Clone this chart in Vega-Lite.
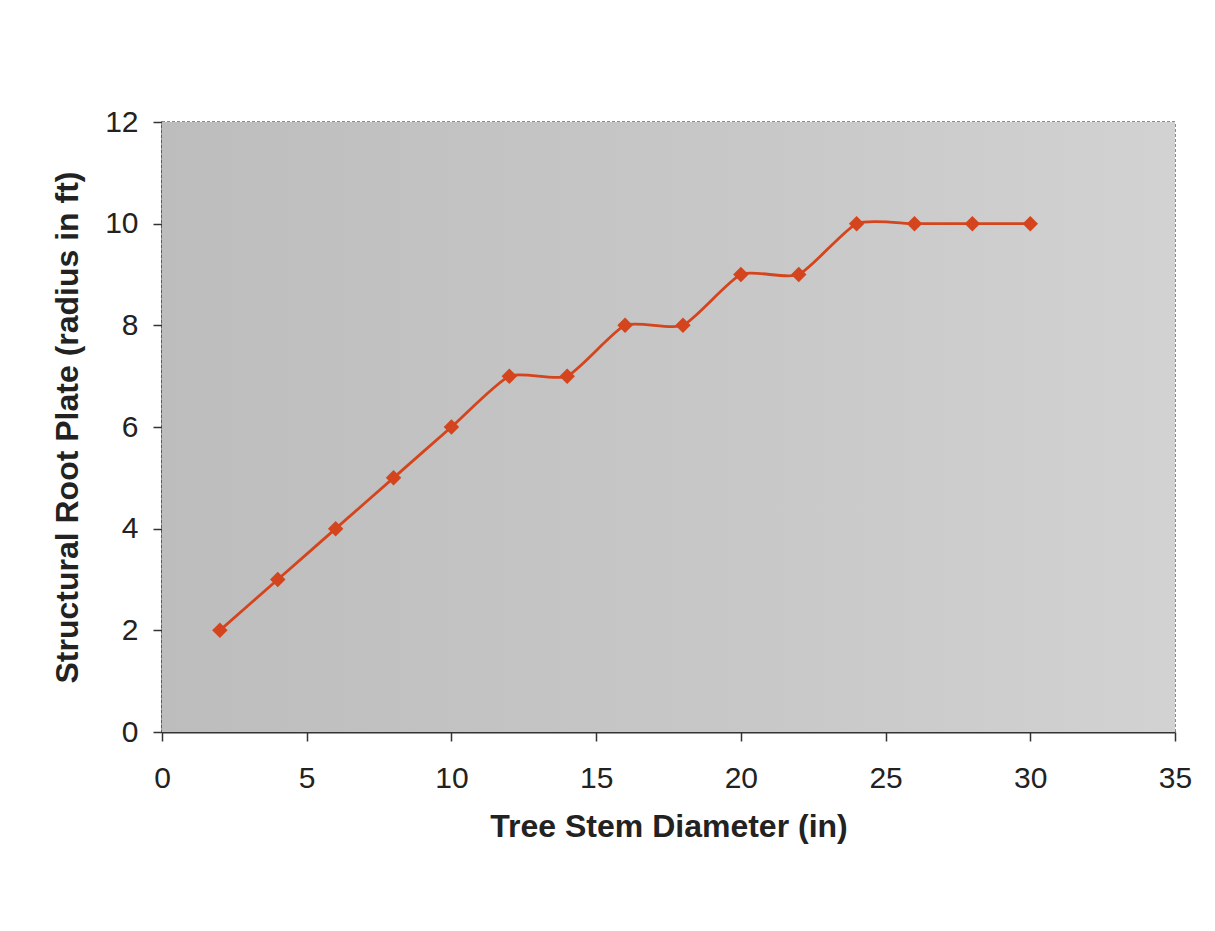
{
  "$schema": "https://vega.github.io/schema/vega-lite/v6.json",
  "width": 1013,
  "height": 610,
  "autosize": {"type": "none"},
  "padding": {"left": 162, "top": 122, "right": 40, "bottom": 199},
  "background": "white",
  "config": {
    "font": "Liberation Sans",
    "view": {"stroke": "#666666", "strokeWidth": 1.5, "strokeDash": [3, 2]},
    "axis": {
      "grid": false,
      "domainColor": "#333333",
      "domainWidth": 2,
      "tickColor": "#333333",
      "tickWidth": 1.5,
      "tickSize": 9,
      "labelFlush": false,
      "labelFont": "Liberation Sans",
      "labelFontSize": 30,
      "labelColor": "#222222",
      "titleFont": "Liberation Sans",
      "titleFontSize": 32,
      "titleFontWeight": "bold",
      "titleColor": "#222222"
    }
  },
  "layer": [
    {
      "data": {"values": [{"bg": 1}]},
      "mark": {
        "type": "rect",
        "color": {
          "gradient": "linear",
          "x1": 0, "y1": 0, "x2": 1, "y2": 0,
          "stops": [
            {"offset": 0, "color": "#bdbdbd"},
            {"offset": 0.6, "color": "#c8c8c8"},
            {"offset": 1, "color": "#d2d2d2"}
          ]
        }
      },
      "encoding": {}
    },
    {
      "data": {
        "values": [
          {"diameter": 2, "radius": 2},
          {"diameter": 4, "radius": 3},
          {"diameter": 6, "radius": 4},
          {"diameter": 8, "radius": 5},
          {"diameter": 10, "radius": 6},
          {"diameter": 12, "radius": 7},
          {"diameter": 14, "radius": 7},
          {"diameter": 16, "radius": 8},
          {"diameter": 18, "radius": 8},
          {"diameter": 20, "radius": 9},
          {"diameter": 22, "radius": 9},
          {"diameter": 24, "radius": 10},
          {"diameter": 26, "radius": 10},
          {"diameter": 28, "radius": 10},
          {"diameter": 30, "radius": 10}
        ]
      },
      "encoding": {
        "x": {
          "field": "diameter",
          "type": "quantitative",
          "title": "Tree Stem Diameter (in)",
          "scale": {"domain": [0, 35], "nice": false, "zero": true},
          "axis": {"values": [0, 5, 10, 15, 20, 25, 30, 35], "labelPadding": 22, "titlePadding": 18}
        },
        "y": {
          "field": "radius",
          "type": "quantitative",
          "title": "Structural Root Plate (radius in ft)",
          "scale": {"domain": [0, 12], "nice": false},
          "axis": {"values": [0, 2, 4, 6, 8, 10, 12], "labelPadding": 15, "titlePadding": 20}
        }
      },
      "layer": [
        {
          "mark": {"type": "line", "color": "#d4451e", "strokeWidth": 2.8, "interpolate": "cardinal", "tension": 0.4}
        },
        {
          "mark": {"type": "point", "shape": "diamond", "filled": true, "color": "#d4451e", "size": 240, "opacity": 1}
        }
      ]
    }
  ]
}
